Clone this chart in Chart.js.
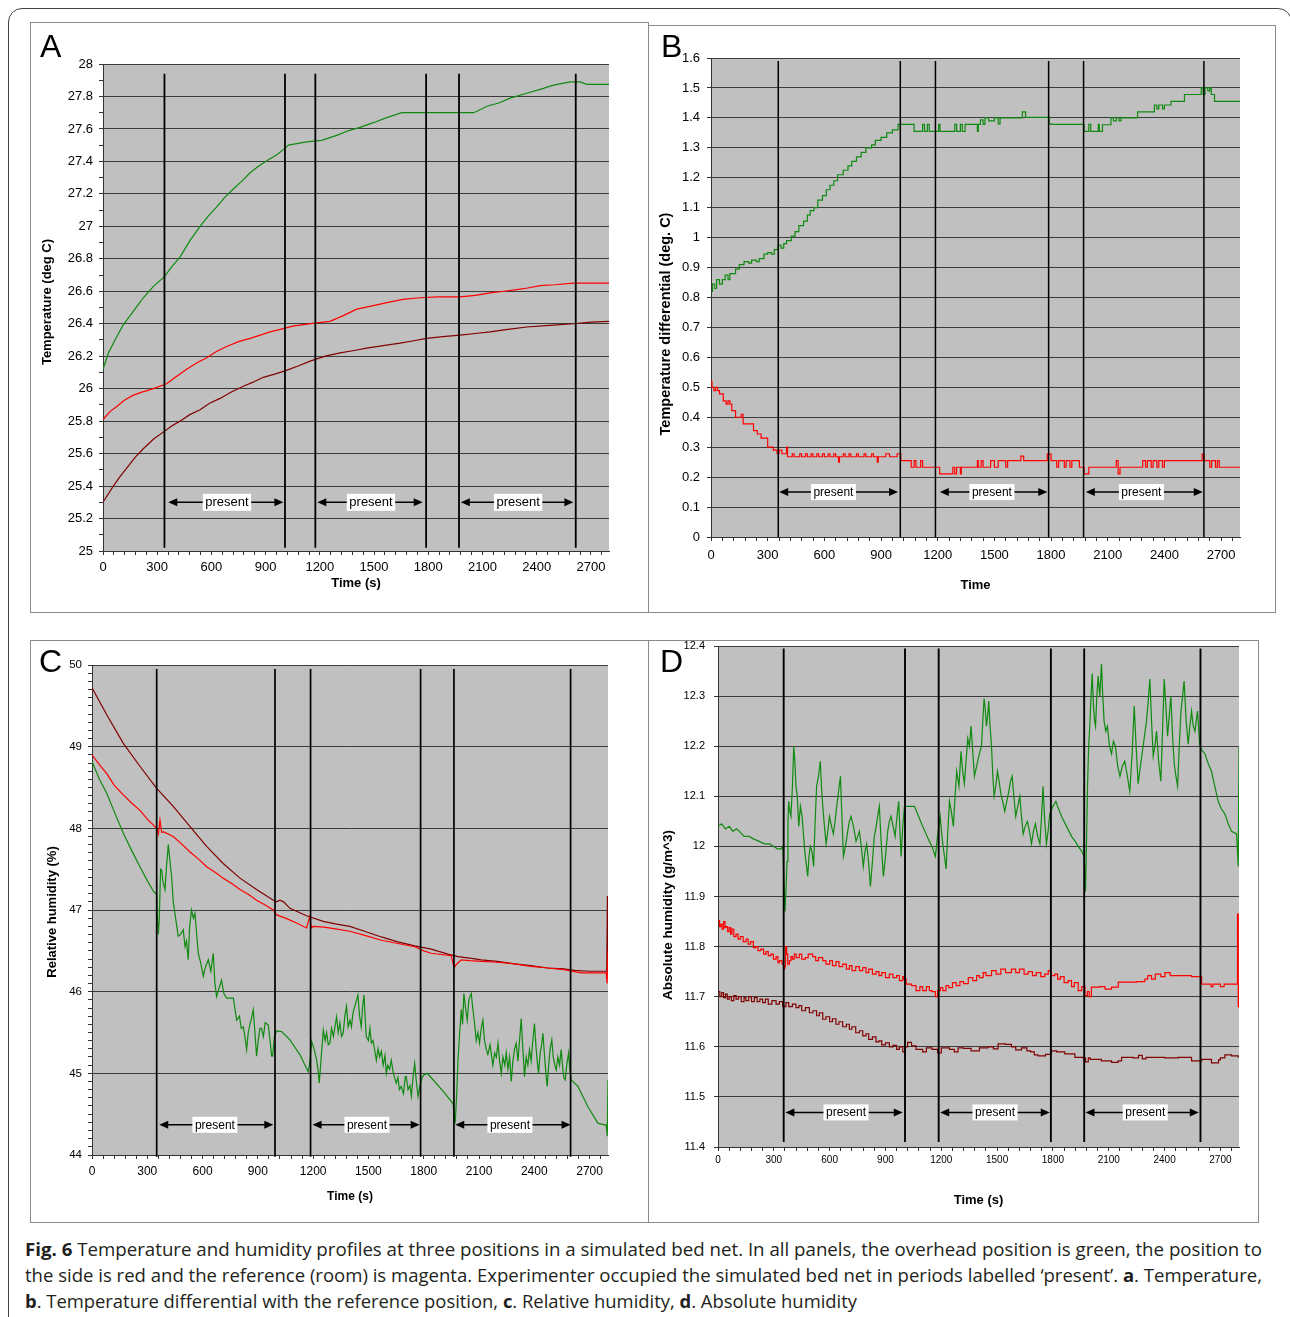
<!DOCTYPE html>
<html><head><meta charset="utf-8">
<script src="https://cdn.jsdelivr.net/npm/chart.js@4.4.1/dist/chart.umd.min.js"></script>
<style>
body{margin:0;width:1290px;height:1317px;background:#fff;position:relative;overflow:hidden;font-family:'Liberation Sans',Arial,sans-serif;}
#frame{position:absolute;left:8px;top:8px;width:1282px;height:1340px;border:1px solid #444;border-radius:14px;}
.box{position:absolute;border:1px solid #8a8a8a;box-sizing:border-box;}
canvas{position:absolute;}
.letter{position:absolute;font-family:'Liberation Sans',Arial,sans-serif;font-size:32px;line-height:32px;color:#000;}
.cap{position:absolute;left:25px;white-space:nowrap;font-family:'Open Sans',sans-serif;font-size:18px;line-height:26px;color:#231f20;transform-origin:0 0;}
.cap b{font-weight:700;}
</style></head>
<body>
<div id="frame"></div>
<div class="box" style="left:30px;top:22px;width:619px;height:591px"></div>
<div class="box" style="left:648px;top:25px;width:628px;height:588px"></div>
<div class="box" style="left:30px;top:640px;width:619px;height:583px"></div>
<div class="box" style="left:648px;top:640px;width:611px;height:583px"></div>
<div class="cap" id="cap1" style="top:1236px"><b>Fig. 6</b> Temperature and humidity profiles at three positions in a simulated bed net. In all panels, the overhead position is green, the position to</div>
<div class="cap" id="cap2" style="top:1262px">the side is red and the reference (room) is magenta. Experimenter occupied the simulated bed net in periods labelled ‘present’. <b>a</b>. Temperature,</div>
<div class="cap" id="cap3" style="top:1288px"><b>b</b>. Temperature differential with the reference position, <b>c</b>. Relative humidity, <b>d</b>. Absolute humidity</div>
<script>
// ---------- data ----------
const X_LABELS = [0,300,600,900,1200,1500,1800,2100,2400,2700];
const A_YLABELS = [25,25.2,25.4,25.6,25.8,26,26.2,26.4,26.6,26.8,27,27.2,27.4,27.6,27.8,28];
const B_YLABELS = [0,0.1,0.2,0.3,0.4,0.5,0.6,0.7,0.8,0.9,1,1.1,1.2,1.3,1.4,1.5,1.6];
const C_YLABELS = [44,45,46,47,48,49,50];
const D_YLABELS = [11.4,11.5,11.6,11.7,11.8,11.9,12,12.1,12.2,12.3,12.4];

const A_GREEN = [[0,26.12],[30,26.22],[76,26.32],[110,26.39],[150,26.45],[190,26.51],[223,26.56],[279,26.63],[340,26.69],[380,26.75],[426,26.81],[480,26.91],[537,27.00],[580,27.06],[629,27.12],[675,27.18],[721,27.23],[770,27.28],[814,27.33],[860,27.37],[915,27.41],[960,27.44],[1007,27.48],[1026,27.50],[1127,27.52],[1210,27.53],[1293,27.56],[1360,27.59],[1422,27.61],[1500,27.64],[1570,27.67],[1653,27.70],[2050,27.70],[2090,27.72],[2124,27.74],[2190,27.76],[2253,27.79],[2345,27.82],[2437,27.85],[2493,27.87],[2585,27.89],[2640,27.89],[2677,27.875],[2800,27.875]];
const A_RED = [[0,25.81],[40,25.86],[76,25.89],[120,25.93],[168,25.96],[220,25.98],[279,26.00],[352,26.03],[400,26.07],[463,26.12],[520,26.16],[574,26.19],[630,26.23],[684,26.26],[750,26.29],[814,26.31],[870,26.33],[924,26.35],[998,26.37],[1050,26.385],[1109,26.395],[1180,26.405],[1256,26.415],[1330,26.45],[1404,26.49],[1490,26.51],[1570,26.53],[1660,26.55],[1754,26.56],[1850,26.565],[1976,26.565],[2060,26.575],[2142,26.59],[2220,26.60],[2290,26.61],[2350,26.62],[2419,26.635],[2500,26.64],[2603,26.65],[2800,26.65]];
const A_MAROON = [[0,25.30],[57,25.40],[95,25.46],[131,25.51],[180,25.58],[223,25.63],[280,25.69],[343,25.74],[380,25.77],[426,25.80],[480,25.84],[537,25.87],[590,25.91],[648,25.94],[710,25.98],[777,26.015],[830,26.04],[887,26.07],[950,26.09],[1007,26.11],[1080,26.14],[1146,26.17],[1230,26.20],[1312,26.22],[1390,26.235],[1459,26.25],[1550,26.265],[1644,26.28],[1720,26.295],[1791,26.31],[1880,26.32],[1976,26.33],[2060,26.34],[2142,26.35],[2240,26.365],[2345,26.38],[2470,26.39],[2603,26.40],[2700,26.41],[2800,26.415]];

const B_GREEN = [[0,0.82],[8,0.845],[20,0.83],[30,0.86],[45,0.845],[60,0.86],[75,0.875],[90,0.86],[100,0.88],[130,0.895],[150,0.91],[175,0.92],[200,0.915],[215,0.925],[240,0.92],[255,0.93],[280,0.945],[300,0.95],[320,0.945],[335,0.96],[355,0.975],[370,0.965],[385,0.98],[400,0.99],[425,1.005],[445,1.02],[465,1.04],[490,1.055],[510,1.075],[525,1.09],[545,1.10],[565,1.125],[590,1.14],[610,1.16],[630,1.175],[650,1.19],[670,1.21],[700,1.225],[725,1.24],[745,1.255],[770,1.27],[795,1.285],[820,1.30],[850,1.31],[870,1.325],[900,1.335],[930,1.35],[960,1.36],[990,1.378],[1075,1.355],[1120,1.378],[1130,1.355],[1145,1.378],[1155,1.355],[1205,1.378],[1212,1.355],[1290,1.378],[1300,1.355],[1320,1.378],[1330,1.355],[1345,1.378],[1410,1.355],[1415,1.378],[1426,1.393],[1440,1.378],[1450,1.40],[1470,1.39],[1500,1.40],[1520,1.38],[1530,1.40],[1648,1.42],[1665,1.402],[1790,1.38],[1800,1.378],[1975,1.355],[2000,1.378],[2010,1.355],[2050,1.378],[2055,1.355],[2072,1.377],[2117,1.40],[2130,1.39],[2145,1.40],[2160,1.39],[2170,1.40],[2258,1.42],[2347,1.443],[2360,1.43],[2370,1.443],[2390,1.43],[2400,1.443],[2435,1.455],[2506,1.478],[2595,1.50],[2605,1.478],[2615,1.50],[2630,1.49],[2640,1.50],[2648,1.478],[2665,1.455],[2800,1.455]];
const B_RED = [[0,0.52],[5,0.50],[15,0.489],[25,0.50],[35,0.489],[45,0.478],[65,0.455],[80,0.444],[90,0.455],[100,0.444],[110,0.422],[130,0.40],[160,0.41],[170,0.378],[200,0.378],[225,0.355],[245,0.344],[265,0.33],[300,0.30],[330,0.29],[350,0.278],[360,0.29],[375,0.278],[400,0.30],[405,0.268],[430,0.278],[440,0.268],[470,0.278],[480,0.268],[500,0.278],[510,0.268],[530,0.278],[540,0.268],[560,0.278],[570,0.268],[590,0.278],[600,0.268],[620,0.278],[630,0.268],[650,0.278],[660,0.268],[675,0.25],[680,0.268],[700,0.278],[710,0.268],[730,0.278],[740,0.268],[770,0.278],[780,0.268],[810,0.278],[820,0.268],[850,0.278],[860,0.268],[880,0.25],[885,0.268],[925,0.278],[945,0.268],[985,0.278],[1005,0.255],[1060,0.233],[1075,0.255],[1085,0.233],[1110,0.255],[1120,0.233],[1210,0.211],[1280,0.233],[1290,0.211],[1300,0.233],[1320,0.211],[1325,0.233],[1410,0.255],[1415,0.233],[1430,0.255],[1440,0.233],[1480,0.255],[1500,0.233],[1520,0.255],[1560,0.233],[1570,0.255],[1640,0.27],[1655,0.255],[1780,0.277],[1800,0.255],[1830,0.233],[1840,0.255],[1870,0.233],[1880,0.255],[1900,0.233],[1910,0.255],[1950,0.233],[1975,0.211],[2000,0.233],[2145,0.255],[2155,0.211],[2165,0.233],[2285,0.255],[2300,0.233],[2310,0.255],[2330,0.233],[2340,0.255],[2360,0.233],[2370,0.255],[2390,0.233],[2400,0.255],[2600,0.277],[2610,0.255],[2640,0.233],[2650,0.255],[2670,0.233],[2680,0.255],[2690,0.233],[2800,0.233]];

const C_GREEN = [[0,48.82],[40,48.6],[80,48.43],[125,48.18],[170,47.94],[215,47.73],[260,47.53],[300,47.36],[333,47.23],[351,47.19],[356,46.85],[360,46.70],[366,46.95],[372,47.50],[378,47.49],[385,47.35],[396,47.25],[405,47.55],[414,47.80],[423,47.60],[432,47.41],[441,47.10],[450,46.96],[460,46.80],[468,46.68],[480,46.70],[495,46.76],[505,46.55],[513,46.62],[522,46.39],[530,46.80],[540,47.00],[550,46.90],[559,46.96],[568,46.70],[577,46.47],[590,46.35],[604,46.19],[615,46.30],[631,46.39],[645,46.25],[658,46.47],[667,46.10],[676,45.94],[690,46.05],[703,46.14],[715,45.98],[730,45.92],[767,45.92],[775,45.80],[785,45.65],[800,45.70],[810,45.55],[821,45.57],[830,45.45],[839,45.29],[848,45.50],[857,45.60],[866,45.68],[875,45.78],[884,45.50],[893,45.21],[902,45.40],[911,45.55],[920,45.55],[930,45.45],[940,45.62],[957,45.59],[966,45.40],[975,45.21],[980,45.21],[990,45.45],[1002,45.52],[1029,45.51],[1074,45.41],[1128,45.23],[1173,45.02],[1180,45.10],[1192,45.39],[1205,45.30],[1219,45.16],[1226,45.05],[1233,44.88],[1244,45.20],[1255,45.53],[1265,45.40],[1273,45.50],[1282,45.35],[1291,45.37],[1300,45.55],[1310,45.45],[1327,45.69],[1336,45.50],[1345,45.62],[1354,45.45],[1363,45.49],[1372,45.70],[1381,45.82],[1390,45.57],[1400,45.65],[1408,45.57],[1416,45.74],[1430,45.85],[1443,45.96],[1452,45.70],[1461,45.57],[1468,45.80],[1476,45.96],[1482,45.70],[1488,45.45],[1500,45.40],[1508,45.55],[1516,45.37],[1525,45.40],[1534,45.28],[1543,45.16],[1552,45.30],[1561,45.20],[1570,45.27],[1580,45.10],[1590,45.22],[1597,45.00],[1605,45.10],[1615,45.05],[1624,45.16],[1635,45.00],[1651,44.88],[1660,44.95],[1668,44.80],[1678,44.84],[1690,44.75],[1700,44.96],[1705,44.96],[1715,44.80],[1725,44.85],[1733,44.72],[1742,44.95],[1751,45.12],[1760,44.90],[1769,44.72],[1780,44.85],[1790,44.94],[1800,44.98],[1819,45.00],[1859,44.90],[1913,44.76],[1959,44.63],[1971,44.39],[1980,44.80],[1986,45.16],[1995,45.50],[2004,45.78],[2011,45.60],[2018,45.98],[2027,45.80],[2036,45.65],[2045,45.90],[2058,45.98],[2066,45.80],[2076,45.61],[2085,45.40],[2094,45.50],[2103,45.37],[2112,45.55],[2121,45.65],[2130,45.40],[2139,45.30],[2148,45.23],[2160,45.35],[2175,45.10],[2185,45.25],[2194,45.20],[2203,45.37],[2212,45.15],[2221,45.00],[2230,45.20],[2240,45.10],[2248,45.25],[2257,45.05],[2266,45.20],[2275,44.90],[2284,45.15],[2293,45.30],[2302,45.37],[2311,45.15],[2320,45.40],[2329,45.67],[2338,45.30],[2347,44.96],[2356,45.20],[2365,45.10],[2374,45.29],[2383,45.15],[2392,45.40],[2401,45.61],[2410,45.30],[2418,45.10],[2423,45.00],[2432,45.25],[2440,45.35],[2447,45.49],[2456,45.20],[2463,45.00],[2470,44.84],[2478,45.10],[2486,45.30],[2495,45.41],[2503,45.20],[2511,45.10],[2519,45.04],[2528,45.20],[2537,45.10],[2546,45.29],[2555,45.05],[2560,44.95],[2568,44.92],[2576,45.10],[2586,45.25],[2593,45.05],[2600,44.92],[2637,44.84],[2691,44.59],[2745,44.39],[2781,44.37],[2790,44.37],[2796,44.23],[2800,44.92]];
const C_RED = [[0,48.90],[40,48.78],[80,48.67],[120,48.53],[170,48.41],[215,48.31],[260,48.22],[305,48.10],[351,48.00],[360,47.93],[369,48.10],[378,47.95],[387,47.96],[441,47.90],[490,47.80],[532,47.71],[580,47.62],[622,47.53],[670,47.46],[712,47.39],[760,47.32],[803,47.25],[850,47.19],[893,47.12],[940,47.06],[984,47.00],[1002,46.94],[1050,46.90],[1110,46.84],[1164,46.78],[1182,46.92],[1190,46.78],[1200,46.80],[1260,46.79],[1320,46.77],[1399,46.74],[1480,46.69],[1570,46.63],[1660,46.59],[1751,46.55],[1800,46.50],[1841,46.47],[1949,46.44],[1965,46.29],[1975,46.33],[2004,46.39],[2050,46.38],[2112,46.37],[2200,46.36],[2293,46.34],[2380,46.31],[2474,46.29],[2560,46.27],[2655,46.23],[2790,46.23],[2795,46.10],[2800,46.5]];
const C_MAROON = [[0,49.72],[80,49.39],[170,49.04],[260,48.76],[351,48.49],[441,48.27],[532,48.02],[622,47.78],[712,47.57],[803,47.39],[893,47.25],[984,47.12],[1000,47.10],[1020,47.12],[1040,47.10],[1074,47.02],[1164,46.93],[1255,46.86],[1320,46.83],[1399,46.80],[1479,46.74],[1570,46.67],[1660,46.61],[1751,46.56],[1841,46.52],[1931,46.46],[1986,46.43],[2050,46.41],[2112,46.39],[2200,46.37],[2293,46.34],[2380,46.32],[2474,46.29],[2560,46.28],[2618,46.26],[2700,46.25],[2793,46.25],[2797,47.17],[2800,46.3]];

const D_GREEN = [[0,12.04],[20,12.045],[40,12.035],[61,12.04],[80,12.03],[100,12.035],[115,12.03],[140,12.02],[168,12.02],[190,12.015],[222,12.01],[250,12.005],[276,12.005],[300,12.0],[320,11.995],[339,11.995],[348,12.0],[354,11.93],[360,11.87],[366,11.92],[371,11.97],[376,12.05],[380,12.09],[386,12.07],[392,12.06],[400,12.12],[407,12.20],[413,12.17],[419,12.12],[426,12.10],[434,12.04],[443,12.08],[452,12.06],[460,12.02],[469,11.98],[476,11.96],[482,11.94],[489,11.98],[496,12.0],[505,11.99],[514,11.96],[522,12.05],[530,12.12],[540,12.14],[550,12.17],[556,12.12],[563,12.08],[572,12.04],[581,12.005],[590,12.03],[599,12.06],[610,12.04],[620,12.025],[629,12.05],[638,12.08],[648,12.11],[658,12.14],[666,12.06],[674,11.98],[685,12.0],[697,12.03],[706,12.05],[715,12.06],[728,12.04],[742,12.01],[751,12.02],[760,12.03],[770,12.0],[781,11.96],[790,11.99],[799,12.005],[809,11.97],[819,11.92],[830,11.97],[840,12.02],[850,12.04],[858,12.06],[867,12.08],[878,12.0],[889,11.94],[900,11.98],[912,12.03],[921,12.05],[930,12.06],[941,12.04],[952,12.02],[962,12.06],[971,12.09],[978,12.03],[984,11.98],[993,12.04],[1002,12.08],[1056,12.08],[1078,12.06],[1100,12.04],[1118,12.025],[1136,12.01],[1150,12.0],[1168,11.98],[1180,12.02],[1194,12.06],[1201,12.03],[1208,12.005],[1217,11.98],[1226,11.955],[1235,12.03],[1244,12.09],[1254,12.07],[1265,12.04],[1274,12.10],[1283,12.15],[1295,12.12],[1306,12.19],[1315,12.15],[1324,12.125],[1333,12.17],[1342,12.215],[1351,12.20],[1360,12.24],[1369,12.19],[1378,12.14],[1390,12.16],[1405,12.185],[1416,12.20],[1423,12.25],[1430,12.295],[1437,12.27],[1443,12.24],[1449,12.26],[1455,12.29],[1462,12.24],[1470,12.20],[1477,12.14],[1484,12.10],[1493,12.12],[1502,12.15],[1511,12.13],[1520,12.105],[1530,12.09],[1541,12.07],[1552,12.09],[1563,12.11],[1572,12.13],[1581,12.14],[1590,12.10],[1600,12.06],[1611,12.08],[1622,12.10],[1631,12.06],[1640,12.025],[1651,12.04],[1663,12.05],[1674,12.03],[1685,12.005],[1695,12.03],[1706,12.045],[1718,12.02],[1730,12.005],[1739,12.06],[1747,12.12],[1756,12.05],[1765,12.005],[1774,12.03],[1783,12.065],[1800,12.08],[1816,12.09],[1830,12.075],[1846,12.06],[1873,12.04],[1900,12.02],[1920,12.01],[1936,12.0],[1955,11.99],[1968,11.98],[1975,11.91],[1980,12.0],[1986,12.12],[1992,12.20],[1998,12.24],[2005,12.30],[2011,12.345],[2018,12.28],[2024,12.25],[2029,12.24],[2036,12.30],[2043,12.34],[2052,12.30],[2061,12.364],[2068,12.30],[2075,12.25],[2084,12.23],[2093,12.24],[2104,12.20],[2115,12.185],[2125,12.21],[2136,12.20],[2148,12.16],[2160,12.14],[2173,12.16],[2186,12.17],[2200,12.14],[2213,12.11],[2225,12.18],[2237,12.28],[2247,12.20],[2258,12.125],[2270,12.16],[2281,12.19],[2292,12.22],[2303,12.25],[2312,12.29],[2321,12.334],[2330,12.25],[2339,12.18],[2348,12.20],[2357,12.23],[2368,12.17],[2380,12.13],[2389,12.23],[2398,12.334],[2407,12.28],[2416,12.22],[2425,12.26],[2434,12.30],[2443,12.22],[2452,12.165],[2461,12.14],[2470,12.12],[2479,12.20],[2488,12.27],[2497,12.30],[2505,12.33],[2516,12.25],[2527,12.204],[2536,12.24],[2545,12.27],[2554,12.24],[2563,12.23],[2570,12.25],[2577,12.27],[2584,12.23],[2590,12.20],[2605,12.19],[2617,12.185],[2635,12.165],[2652,12.15],[2670,12.12],[2688,12.09],[2705,12.075],[2724,12.065],[2742,12.045],[2760,12.03],[2787,12.025],[2796,11.96],[2800,12.20]];
const D_RED = [[0,11.852],[8,11.84],[15,11.845],[22,11.835],[30,11.85],[38,11.838],[43,11.84],[52,11.83],[60,11.838],[68,11.825],[75,11.835],[85,11.82],[97,11.825],[108,11.815],[120,11.82],[135,11.81],[151,11.815],[162,11.805],[175,11.81],[190,11.798],[204,11.80],[215,11.792],[230,11.795],[245,11.785],[258,11.79],[270,11.782],[285,11.785],[298,11.775],[312,11.78],[322,11.768],[330,11.772],[344,11.765],[352,11.755],[358,11.76],[363,11.80],[369,11.785],[375,11.765],[384,11.772],[392,11.78],[400,11.775],[410,11.785],[420,11.778],[437,11.785],[450,11.775],[470,11.778],[485,11.785],[509,11.78],[525,11.772],[540,11.778],[563,11.772],[580,11.765],[600,11.772],[615,11.762],[634,11.77],[650,11.76],[670,11.765],[690,11.755],[706,11.762],[720,11.752],[740,11.76],[760,11.752],[778,11.758],[795,11.748],[810,11.755],[830,11.745],[849,11.75],[865,11.742],[880,11.748],[900,11.738],[921,11.745],[940,11.738],[960,11.742],[975,11.732],[993,11.74],[1000,11.735],[1011,11.725],[1040,11.722],[1064,11.712],[1085,11.72],[1100,11.712],[1120,11.72],[1136,11.712],[1150,11.71],[1168,11.70],[1180,11.712],[1195,11.718],[1208,11.712],[1225,11.722],[1240,11.718],[1260,11.728],[1280,11.722],[1300,11.73],[1320,11.726],[1345,11.738],[1369,11.732],[1390,11.742],[1405,11.738],[1425,11.748],[1440,11.742],[1470,11.752],[1495,11.745],[1520,11.755],[1545,11.748],[1577,11.755],[1600,11.748],[1620,11.755],[1645,11.745],[1667,11.75],[1690,11.742],[1710,11.748],[1735,11.74],[1756,11.745],[1775,11.752],[1790,11.742],[1810,11.745],[1825,11.735],[1840,11.74],[1860,11.728],[1882,11.732],[1900,11.72],[1915,11.728],[1936,11.712],[1955,11.72],[1972,11.702],[1985,11.71],[1995,11.70],[2007,11.719],[2050,11.72],[2080,11.715],[2115,11.719],[2151,11.729],[2200,11.729],[2250,11.73],[2294,11.735],[2310,11.742],[2330,11.735],[2350,11.745],[2380,11.74],[2402,11.748],[2430,11.742],[2470,11.742],[2545,11.74],[2599,11.725],[2650,11.72],[2660,11.725],[2700,11.72],[2720,11.725],[2787,11.725],[2792,11.865],[2796,11.68],[2800,11.72]];
const D_MAROON = [[0,11.71],[10,11.70],[20,11.708],[30,11.698],[40,11.705],[50,11.695],[60,11.70],[72,11.692],[85,11.702],[97,11.695],[110,11.70],[125,11.69],[140,11.698],[150,11.692],[165,11.70],[180,11.69],[195,11.698],[210,11.69],[225,11.695],[240,11.688],[255,11.695],[270,11.685],[290,11.692],[312,11.685],[330,11.69],[348,11.68],[365,11.688],[380,11.68],[400,11.685],[419,11.678],[435,11.682],[450,11.672],[470,11.678],[491,11.668],[510,11.672],[530,11.662],[545,11.668],[563,11.655],[580,11.66],[600,11.65],[615,11.656],[634,11.645],[650,11.65],[670,11.64],[690,11.645],[706,11.635],[720,11.64],[740,11.628],[760,11.632],[778,11.622],[795,11.626],[810,11.615],[830,11.62],[849,11.61],[865,11.612],[880,11.604],[900,11.608],[921,11.6],[940,11.603],[960,11.595],[975,11.6],[993,11.59],[1005,11.6],[1019,11.609],[1040,11.602],[1064,11.595],[1100,11.59],[1120,11.598],[1150,11.595],[1180,11.588],[1200,11.598],[1244,11.595],[1270,11.59],[1290,11.598],[1320,11.597],[1360,11.592],[1405,11.598],[1450,11.6],[1480,11.596],[1505,11.606],[1545,11.605],[1577,11.6],[1600,11.594],[1631,11.598],[1660,11.592],[1680,11.59],[1700,11.584],[1720,11.582],[1760,11.585],[1792,11.592],[1820,11.59],[1864,11.586],[1918,11.579],[1960,11.578],[1975,11.57],[1990,11.578],[2000,11.575],[2060,11.572],[2115,11.569],[2150,11.572],[2169,11.579],[2230,11.578],[2260,11.583],[2280,11.576],[2300,11.579],[2400,11.578],[2473,11.579],[2545,11.572],[2600,11.575],[2652,11.568],[2690,11.574],[2700,11.578],[2724,11.584],[2760,11.582],[2796,11.578]];

// marker times (s), "present" periods and label centres
const A_LINES = [340,1007,1175,1788,1970,2616];
const B_LINES = [356,1002,1188,1787,1972,2609];
const C_LINES = [351,993,1186,1783,1964,2597];
const D_LINES = [353,1005,1186,1789,1968,2593];
const A_PERIODS = [[361,998],[1186,1769],[1980,2603]];
const B_PERIODS = [[361,990],[1211,1780],[1984,2603]];
const C_PERIODS = [[365,984],[1197,1778],[1971,2597]];
const D_PERIODS = [[362,993],[1194,1783],[1975,2584]];
const A_LABEL_T = [686,1483,2297];
const B_LABEL_T = [648,1487,2278];
const C_LABEL_T = [667,1492,2268];
const D_LABEL_T = [688,1489,2296];

// ---------- drawing ----------
const FONT = "'Liberation Sans', Arial, sans-serif";
const GREEN = '#108a10', RED = '#ff0000', MAROON = '#800000';
const GRID = '#3c3c3c';
function seq(a, b, s){ const r=[]; for(let i=0; a+i*s <= b+1e-9; i++) r.push(Math.round((a+i*s)*1000)/1000); return r; }
const X_TICKS = seq(0, 2760, 60);

function overlay(c){
  return {
    id: 'ov' + c.id,
    beforeDraw(chart){
      const {ctx, chartArea:a} = chart;
      ctx.save(); ctx.fillStyle = '#c0c0c0'; ctx.fillRect(a.left, a.top, a.width, a.height); ctx.restore();
    },
    afterDatasetsDraw(chart){
      const {ctx, scales:{x, y}} = chart;
      ctx.save();
      ctx.strokeStyle = '#000'; ctx.fillStyle = '#000'; ctx.lineWidth = c.lineW;
      c.lines.forEach(t => {
        const px = x.getPixelForValue(t);
        ctx.beginPath(); ctx.moveTo(px, y.getPixelForValue(c.lineRange[1])); ctx.lineTo(px, y.getPixelForValue(c.lineRange[0])); ctx.stroke();
      });
      const ay = y.getPixelForValue(c.arrowY);
      c.periods.forEach((p, i) => {
        const x1 = x.getPixelForValue(p[0]), x2 = x.getPixelForValue(p[1]);
        ctx.lineWidth = 1.5;
        ctx.beginPath(); ctx.moveTo(x1 + 6, ay); ctx.lineTo(x2 - 6, ay); ctx.stroke();
        ctx.beginPath(); ctx.moveTo(x1, ay); ctx.lineTo(x1 + 9, ay - 4); ctx.lineTo(x1 + 9, ay + 4); ctx.closePath(); ctx.fill();
        ctx.beginPath(); ctx.moveTo(x2, ay); ctx.lineTo(x2 - 9, ay - 4); ctx.lineTo(x2 - 9, ay + 4); ctx.closePath(); ctx.fill();
        const lx = x.getPixelForValue(c.labelT[i]);
        ctx.font = c.presentSize + 'px ' + FONT;
        const w = ctx.measureText('present').width + 5, h = c.presentSize + 4;
        ctx.fillStyle = '#fff'; ctx.fillRect(lx - w/2, ay - h/2, w, h);
        ctx.fillStyle = '#000'; ctx.textAlign = 'center'; ctx.textBaseline = 'middle';
        ctx.fillText('present', lx, ay + 0.5);
      });
      ctx.restore();
    },
    afterDraw(chart){
      const ctx = chart.ctx;
      ctx.save();
      ctx.translate(c.yTitle.x, c.yTitle.y); ctx.rotate(-Math.PI/2);
      ctx.font = 'bold ' + c.yTitle.size + 'px ' + FONT;
      ctx.fillStyle = '#000'; ctx.textAlign = 'center'; ctx.textBaseline = 'middle';
      ctx.fillText(c.yTitle.text, 0, 0);
      ctx.restore();
    }
  };
}

function makeChart(c){
  const cv = document.createElement('canvas');
  cv.width = c.w; cv.height = c.h;
  cv.style.left = c.left + 'px'; cv.style.top = c.top + 'px';
  cv.style.width = c.w + 'px'; cv.style.height = c.h + 'px';
  document.body.appendChild(cv);
  const isMajorY = v => c.yLabels.some(l => Math.abs(l - v) < 1e-6);
  const isMajorX = v => X_LABELS.some(l => Math.abs(l - v) < 1e-6);
  new Chart(cv, {
    type: 'line',
    data: { datasets: c.series.map(s => ({ data: s.data, borderColor: s.color, borderWidth: 1.2, pointRadius: 0, fill: false, tension: 0, stepped: s.stepped || false })) },
    options: {
      responsive: false, animation: false, devicePixelRatio: 1, events: [],
      layout: { padding: { left: 0, top: c.area.t, right: c.w - c.area.r, bottom: 0 } },
      plugins: { legend: { display: false }, tooltip: { enabled: false } },
      scales: {
        x: {
          type: 'linear', min: 0, max: 2800,
          afterBuildTicks: s => { s.ticks = X_TICKS.map(v => ({ value: v })); },
          afterFit: s => { s.height = c.h - c.area.b; },
          ticks: { autoSkip: false, maxRotation: 0, minRotation: 0, padding: c.xTickPad, color: '#000', font: { family: FONT, size: c.xTickSize }, callback: v => isMajorX(v) ? String(v) : '' },
          grid: { drawOnChartArea: false, drawTicks: true, tickLength: 4, tickColor: '#333' },
          border: { display: true, color: '#333', width: 1 },
          title: { display: true, text: c.xTitle, color: '#000', font: { family: FONT, size: c.xTitleSize, weight: 'bold' }, padding: { top: 0, bottom: c.xTitlePad } }
        },
        y: {
          type: 'linear', min: c.ymin, max: c.ymax,
          afterBuildTicks: s => { s.ticks = c.yTicks.map(v => ({ value: v })); },
          afterFit: s => { s.width = c.area.l; },
          ticks: { autoSkip: false, padding: c.yTickPad, color: '#000', font: { family: FONT, size: c.yTickSize }, callback: v => isMajorY(v) ? String(parseFloat(Number(v).toFixed(2))) : '' },
          grid: { color: ctx => (ctx.tick && isMajorY(ctx.tick.value)) ? GRID : 'rgba(0,0,0,0)', tickColor: '#333', tickLength: 4, drawTicks: true, lineWidth: 1 },
          border: { display: true, color: '#333', width: 1 }
        }
      }
    },
    plugins: [overlay(c)]
  });
}

makeChart({ id:'A', left:30, top:22, w:618, h:590, area:{l:73, t:42, r:579, b:529},
  ymin:25, ymax:28, yLabels:A_YLABELS, yTicks:seq(25, 28, 0.1),
  series:[{data:A_GREEN,color:GREEN},{data:A_RED,color:RED},{data:A_MAROON,color:MAROON}],
  xTickPad:5, xTickSize:13, yTickPad:6, yTickSize:13, xTitle:'Time (s)', xTitleSize:13, xTitlePad:21,
  yTitle:{text:'Temperature (deg C)', x:17, y:280, size:13},
  lines:A_LINES, lineRange:[25.02, 27.94], lineW:1.8, periods:A_PERIODS, labelT:A_LABEL_T, arrowY:25.3, presentSize:13 });

makeChart({ id:'B', left:648, top:25, w:627, h:587, area:{l:63, t:33, r:592, b:512},
  ymin:0, ymax:1.6, yLabels:B_YLABELS, yTicks:B_YLABELS,
  series:[{data:B_GREEN,color:GREEN,stepped:true},{data:B_RED,color:RED,stepped:true}],
  xTickPad:7, xTickSize:13, yTickPad:7, yTickSize:13, xTitle:'Time', xTitleSize:13, xTitlePad:19,
  yTitle:{text:'Temperature differential (deg. C)', x:18, y:299, size:14.5},
  lines:B_LINES, lineRange:[0, 1.59], lineW:1.5, periods:B_PERIODS, labelT:B_LABEL_T, arrowY:0.15, presentSize:12 });

makeChart({ id:'C', left:30, top:640, w:618, h:582, area:{l:62, t:25, r:578, b:515},
  ymin:44, ymax:50, yLabels:C_YLABELS, yTicks:seq(44, 50, 0.1),
  series:[{data:C_GREEN,color:GREEN},{data:C_RED,color:RED},{data:C_MAROON,color:MAROON}],
  xTickPad:5, xTickSize:12, yTickPad:6, yTickSize:11.5, xTitle:'Time (s)', xTitleSize:12, xTitlePad:18,
  yTitle:{text:'Relative humidity (%)', x:22, y:272, size:13},
  lines:C_LINES, lineRange:[43.98, 49.95], lineW:1.7, periods:C_PERIODS, labelT:C_LABEL_T, arrowY:44.37, presentSize:12 });

makeChart({ id:'D', left:648, top:630, w:610, h:592, area:{l:70, t:16, r:591, b:517},
  ymin:11.4, ymax:12.4, yLabels:D_YLABELS, yTicks:D_YLABELS,
  series:[{data:D_GREEN,color:GREEN},{data:D_RED,color:RED,stepped:true},{data:D_MAROON,color:MAROON,stepped:true}],
  xTickPad:3, xTickSize:10, yTickPad:9, yTickSize:11, xTitle:'Time (s)', xTitleSize:13, xTitlePad:14,
  yTitle:{text:'Absolute humidity (g/m^3)', x:20, y:285, size:13.5},
  lines:D_LINES, lineRange:[11.41, 12.395], lineW:1.9, periods:D_PERIODS, labelT:D_LABEL_T, arrowY:11.469, presentSize:12 });

// panel letters
[['A',40,30],['B',661,30],['C',39,645],['D',660,645]].forEach(([t,l,tp]) => {
  const d = document.createElement('div'); d.className = 'letter'; d.textContent = t;
  d.style.left = l + 'px'; d.style.top = tp + 'px'; document.body.appendChild(d);
});

// fit caption lines to reference widths
[['cap1',1237],['cap2',1237],['cap3',832]].forEach(([id, target]) => {
  const el = document.getElementById(id);
  const w = el.getBoundingClientRect().width;
  el.style.transform = 'scaleX(' + (target / w) + ')';
});
</script>
</body></html>
